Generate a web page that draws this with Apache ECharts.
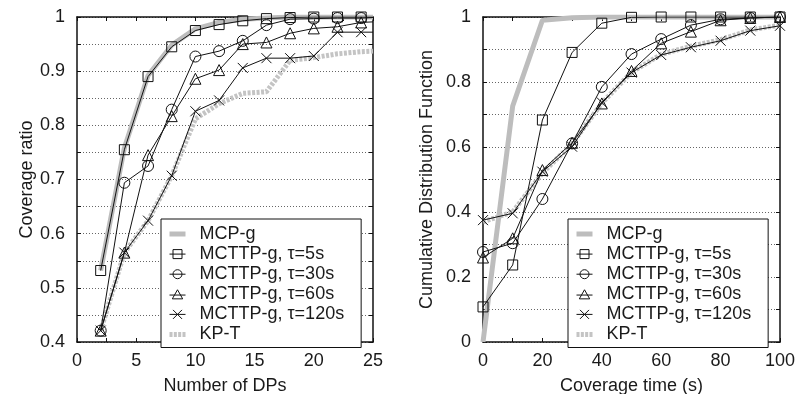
<!DOCTYPE html>
<html><head><meta charset="utf-8">
<script src="https://cdn.jsdelivr.net/npm/echarts@6/dist/echarts.min.js"></script>
<style>html,body{margin:0;padding:0;background:#fff}#c{width:800px;height:394px}</style>
</head><body><div id="c"></div>
<script>
// ---- Data ----
const seriesNames = ['MCP-g', 'MCTTP-g, τ=5s', 'MCTTP-g, τ=30s', 'MCTTP-g, τ=60s', 'MCTTP-g, τ=120s', 'KP-T'];

// Left: coverage ratio vs number of DPs (last point at 25 drawn without marker)
const dpX = [2, 4, 6, 8, 10, 12, 14, 16, 18, 20, 22, 24, 25];
const leftMCP   = [0.532, 0.758, 0.892, 0.948, 0.978, 0.990, 0.996, 0.998, 1.0, 1.0, 1.0, 1.0, 1.0];
const leftT5    = [0.532, 0.755, 0.890, 0.945, 0.975, 0.986, 0.993, 0.997, 0.999, 1.0, 1.0, 1.0, 1.0];
const leftT30   = [0.421, 0.694, 0.725, 0.829, 0.927, 0.937, 0.956, 0.985, 0.996, 0.997, 0.998, 0.998, 0.999];
const leftT60   = [0.421, 0.565, 0.745, 0.817, 0.886, 0.902, 0.950, 0.953, 0.970, 0.979, 0.982, 0.990, 0.991];
const leftT120  = [0.421, 0.565, 0.624, 0.707, 0.826, 0.846, 0.906, 0.924, 0.924, 0.928, 0.972, 0.972, 0.972];
const leftKPT   = [0.421, 0.565, 0.624, 0.707, 0.812, 0.840, 0.859, 0.862, 0.920, 0.925, 0.932, 0.936, 0.937];

// Right: CDF vs coverage time (s)
const timeX = [0, 10, 20, 30, 40, 50, 60, 70, 80, 90, 100];
const rightMCP  = [0.0, 0.726, 0.990, 0.998, 1.0, 1.0, 1.0, 1.0, 1.0, 1.0, 1.0];
const rightT5   = [0.108, 0.237, 0.683, 0.891, 0.981, 0.999, 1.0, 1.0, 1.0, 1.0, 1.0];
const rightT30  = [0.277, 0.304, 0.440, 0.611, 0.785, 0.886, 0.932, 0.975, 0.993, 0.997, 1.0];
const rightT60  = [0.260, 0.319, 0.529, 0.613, 0.734, 0.834, 0.919, 0.955, 0.990, 0.997, 1.0];
const rightT120 = [0.375, 0.396, 0.524, 0.601, 0.737, 0.829, 0.883, 0.907, 0.927, 0.958, 0.973];
const rightKPT  = [0.370, 0.400, 0.520, 0.610, 0.735, 0.830, 0.885, 0.910, 0.930, 0.960, 0.975];

// ---- Styles ----
const FONT = 'Liberation Sans';
const TXT = '#1a1a1a';
const FS = 18;
const crossPath = 'path://M0,0L10,10M0,10L10,0';
const GRAY1 = '#bdbdbd', GRAY2 = '#c4c4c4';
const styles = [
  {symbol: 'none', lineStyle: {color: GRAY1, width: 5}},
  {symbol: 'rect', symbolSize: 10},
  {symbol: 'circle', symbolSize: 11},
  {symbol: 'triangle', symbolSize: 11},
  {symbol: crossPath, symbolSize: 10},
  {symbol: 'none', lineStyle: {color: GRAY2, width: 5, type: [3, 1.5]}}
];
const legendIcons = [
  'path://M0,0h16v5h-16z',
  'path://M0,8H16M3.5,3.5h9v9h-9z',
  'path://M0,8H16M12.5,8A4.5,4.5,0,1,1,3.5,8A4.5,4.5,0,1,1,12.5,8',
  'path://M0,8.5H16M8,3.2L13.2,12.3H2.8Z',
  'path://M0,8H16M3.5,3.5L12.5,12.5M3.5,12.5L12.5,3.5',
  'path://M0,0h3v5h-3zM4.3,0h3v5h-3zM8.6,0h3v5h-3zM12.9,0h3v5h-3z'
];

function pairs(xs, ys, lastNoMarker) {
  return xs.map((x, i) => {
    if (lastNoMarker && i === xs.length - 1) return {value: [x, ys[i]], symbol: 'none'};
    return [x, ys[i]];
  });
}

function mkSeries(idx, xs, ys, xAxisIndex, yAxisIndex, lastNoMarker) {
  const st = styles[idx];
  return {
    name: seriesNames[idx], type: 'line', xAxisIndex, yAxisIndex,
    data: pairs(xs, ys, lastNoMarker),
    symbol: st.symbol, symbolSize: st.symbolSize || 0,
    showSymbol: st.symbol !== 'none',
    lineStyle: st.lineStyle || {color: '#111', width: 1},
    itemStyle: st.symbol === 'none' ? {color: st.lineStyle.color} :
      {color: 'rgba(255,255,255,0)', borderColor: '#111', borderWidth: 1},
    z: st.symbol === 'none' ? 1 : 3,
    animation: false,
    emphasis: {disabled: true}
  };
}

const leftY = [leftMCP, leftT5, leftT30, leftT60, leftT120, leftKPT];
const rightY = [rightMCP, rightT5, rightT30, rightT60, rightT120, rightKPT];
const series = [];
[0, 5, 1, 2, 3, 4].forEach(i => series.push(mkSeries(i, dpX, leftY[i], 0, 0, true)));
[0, 5, 1, 2, 3, 4].forEach(i => series.push(mkSeries(i, timeX, rightY[i], 2, 2, false)));

const lbl = {fontFamily: FONT, fontSize: FS, color: TXT};
const gridLine = {show: true, lineStyle: {color: '#666', type: [1, 2], width: 1}};
function xAx(grid, min, max, interval, name, pos, show) {
  return {
    type: 'value', gridIndex: grid, min, max, interval, position: pos,
    name: show ? name : '', nameLocation: 'middle', nameGap: 35,
    nameTextStyle: {fontFamily: FONT, fontSize: FS, color: TXT},
    axisLine: {show: true, onZero: false, lineStyle: {color: '#111', width: 1.5}},
    axisTick: {show: true, inside: true, length: 4, lineStyle: {color: '#111'}},
    minorTick: {show: true, splitNumber: 2, length: 4, lineStyle: {color: '#111'}},
    axisLabel: Object.assign({show: show, margin: 10}, lbl),
    splitLine: {show: false}
  };
}
function yAx(grid, min, max, interval, name, pos, show, gap) {
  return {
    type: 'value', gridIndex: grid, min, max, interval, position: pos,
    name: show ? name : '', nameLocation: 'middle', nameGap: gap,
    nameTextStyle: {fontFamily: FONT, fontSize: FS, color: TXT},
    axisLine: {show: true, onZero: false, lineStyle: {color: '#111', width: 1.5}},
    axisTick: {show: true, inside: true, length: 4, lineStyle: {color: '#111'}},
    minorTick: {show: true, splitNumber: 2, length: 4, lineStyle: {color: '#111'}},
    axisLabel: Object.assign({show: show, margin: 12,
      formatter: v => String(parseFloat(v.toFixed(2)))}, lbl),
    splitLine: show ? gridLine : {show: false},
    minorSplitLine: show ? gridLine : {show: false}
  };
}

function legend(left) {
  return {
    data: seriesNames.map((n, i) => ({
      name: n, icon: legendIcons[i],
      itemStyle: i === 0 ? {color: GRAY1, borderWidth: 0} :
        i === 5 ? {color: GRAY2, borderWidth: 0} :
        {color: 'rgba(255,255,255,0)', borderColor: '#111', borderWidth: 1}
    })),
    orient: 'vertical', left: left, top: 219,
    backgroundColor: '#fff', borderColor: '#111', borderWidth: 1,
    padding: [6, 17, 4, 8], itemWidth: 16, itemHeight: 16, itemGap: 2.1,
    symbolKeepAspect: true,
    textStyle: {fontFamily: FONT, fontSize: FS, color: TXT, lineHeight: 16, padding: [0, 0, 0, 9]},
    selectedMode: false
  };
}

const option = {
  backgroundColor: '#fff',
  animation: false,
  grid: [
    {left: 77, top: 17, width: 296, height: 325, containLabel: false, outerBoundsMode: 'none'},
    {left: 483, top: 17, width: 297, height: 325, containLabel: false, outerBoundsMode: 'none'}
  ],
  xAxis: [
    xAx(0, 0, 25, 5, 'Number of DPs', 'bottom', true),
    xAx(0, 0, 25, 5, '', 'top', false),
    xAx(1, 0, 100, 20, 'Coverage time (s)', 'bottom', true),
    xAx(1, 0, 100, 20, '', 'top', false)
  ],
  yAxis: [
    yAx(0, 0.4, 1, 0.1, 'Coverage ratio', 'left', true, 41),
    yAx(0, 0.4, 1, 0.1, '', 'right', false, 0),
    yAx(1, 0, 1, 0.2, 'Cumulative Distribution Function', 'left', true, 47),
    yAx(1, 0, 1, 0.2, '', 'right', false, 0)
  ],
  legend: [legend(161), legend(568)],
  series: series
};

const chart = echarts.init(document.getElementById('c'), null, {renderer: 'canvas'});
chart.setOption(option);
</script>
</body></html>
